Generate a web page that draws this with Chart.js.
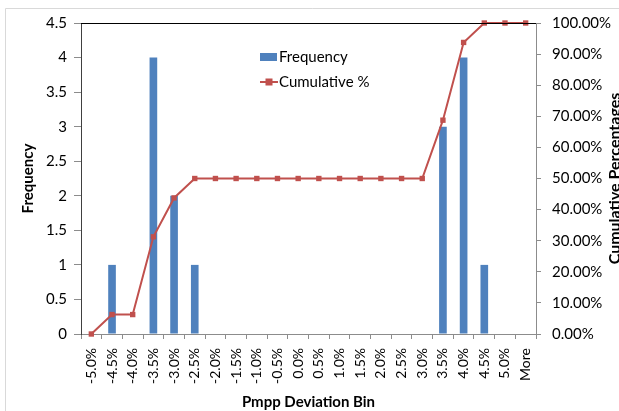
<!DOCTYPE html>
<html>
<head>
<meta charset="utf-8">
<script src="https://cdn.jsdelivr.net/npm/chart.js@4.4.0/dist/chart.umd.min.js"></script>
<style>
  html, body { margin: 0; padding: 0; background: #fff; }
  #wrap { position: relative; width: 619px; height: 411px; }
</style>
</head>
<body>
<div id="wrap"><canvas id="histChart" width="619" height="411"></canvas></div>
<script>
// bins of the histogram
const bins = ['-5.0%', '-4.5%', '-4.0%', '-3.5%', '-3.0%', '-2.5%', '-2.0%', '-1.5%', '-1.0%', '-0.5%',
  '0.0%', '0.5%', '1.0%', '1.5%', '2.0%', '2.5%', '3.0%', '3.5%', '4.0%', '4.5%', '5.0%', 'More'];
// frequency per bin
const frequency = [0, 1, 0, 4, 2, 1, 0, 0, 0, 0, 0, 0, 0, 0, 0, 0, 0, 3, 4, 1, 0, 0];
// cumulative percentage per bin
const cumulative = [0, 6.25, 6.25, 31.25, 43.75, 50, 50, 50, 50, 50, 50, 50, 50, 50, 50, 50, 50,
  68.75, 93.75, 100, 100, 100];

const BLUE = '#4F81BD';
const RED = '#C0504D';
const FONT = 'Lato, "Liberation Sans", sans-serif';

Chart.defaults.font.family = FONT;
Chart.defaults.font.size = 15;
Chart.defaults.color = '#000';

// frame, plot border, legend and right-hand title
const decorations = {
  id: 'decorations',
  beforeDraw(chart) {
    const c = chart.ctx;
    c.save();
    c.strokeStyle = '#d9d9d9';
    c.lineWidth = 1;
    c.beginPath();
    c.moveTo(5.5, 411);
    c.lineTo(5.5, 8.5);
    c.lineTo(619, 8.5);
    c.stroke();
    c.restore();
  },
  afterDatasetsDraw(chart) {
    const c = chart.ctx;
    const a = chart.chartArea;
    c.save();
    c.strokeStyle = '#000';
    c.lineWidth = 1;
    c.beginPath();
    c.moveTo(a.left, a.top + 0.5);
    c.lineTo(a.right, a.top + 0.5);
    c.stroke();
    c.restore();
  },
  afterDraw(chart) {
    const c = chart.ctx;
    const ds = chart.data.datasets;
    c.save();
    c.font = '15px ' + FONT;
    c.textBaseline = 'middle';
    // bar entry
    c.fillStyle = BLUE;
    c.fillRect(260, 53, 17, 8);
    c.fillStyle = '#000';
    c.fillText(ds[1].label, 279, 57);
    // line entry
    c.strokeStyle = RED;
    c.lineWidth = 2;
    c.beginPath();
    c.moveTo(260, 82);
    c.lineTo(278, 82);
    c.stroke();
    c.fillStyle = RED;
    c.fillRect(265.5, 78.5, 7, 7);
    c.fillStyle = '#000';
    c.fillText(ds[0].label, 279, 82);
    // right axis title, reading bottom to top
    const a = chart.chartArea;
    c.translate(615, (a.top + a.bottom) / 2);
    c.rotate(-Math.PI / 2);
    c.font = 'bold 16px ' + FONT;
    c.textAlign = 'center';
    c.fillText('Cumulative Percentages', 0, 0);
    c.restore();
  }
};

new Chart(document.getElementById('histChart'), {
  data: {
    labels: bins,
    datasets: [
      {
        type: 'line',
        label: 'Cumulative %',
        data: cumulative,
        yAxisID: 'y1',
        borderColor: RED,
        backgroundColor: RED,
        borderWidth: 2,
        pointStyle: 'rect',
        pointRadius: 3.8,
        pointBorderWidth: 0,
        clip: false,
        order: 0
      },
      {
        type: 'bar',
        label: 'Frequency',
        data: frequency,
        yAxisID: 'y',
        backgroundColor: BLUE,
        categoryPercentage: 1,
        barPercentage: 0.37,
        order: 1
      }
    ]
  },
  options: {
    responsive: false,
    animation: false,
    layout: { padding: { top: 23 } },
    plugins: {
      legend: { display: false },
      tooltip: { enabled: false }
    },
    scales: {
      x: {
        offset: true,
        grid: { offset: true, drawOnChartArea: false, tickLength: 5, color: '#8c8c8c' },
        border: { color: '#8c8c8c' },
        ticks: { minRotation: 90, maxRotation: 90, autoSkip: false, padding: 9, font: { size: 14 } },
        title: {
          display: true,
          text: 'Pmpp Deviation Bin',
          font: { weight: 'bold', size: 15 },
          padding: { top: 0, bottom: 0 }
        },
        afterFit(s) { s.height = 77; }
      },
      y: {
        position: 'left',
        min: 0,
        max: 4.5,
        ticks: { stepSize: 0.5, padding: 7, callback: v => String(v) },
        grid: { drawOnChartArea: false, tickLength: 7, color: '#8c8c8c' },
        border: { color: '#404040' },
        title: {
          display: true,
          text: 'Frequency',
          font: { weight: 'bold', size: 15 },
          padding: { top: 19, bottom: 0 }
        },
        afterFit(s) { s.width = 81; }
      },
      y1: {
        position: 'right',
        min: 0,
        max: 100,
        ticks: { stepSize: 10, padding: 11, callback: v => v.toFixed(2) + '%' },
        grid: { drawOnChartArea: false, tickLength: 5, color: '#8c8c8c' },
        border: { color: '#8c8c8c' },
        afterFit(s) { s.width = 83; }
      }
    }
  },
  plugins: [decorations]
});
</script>
</body>
</html>
